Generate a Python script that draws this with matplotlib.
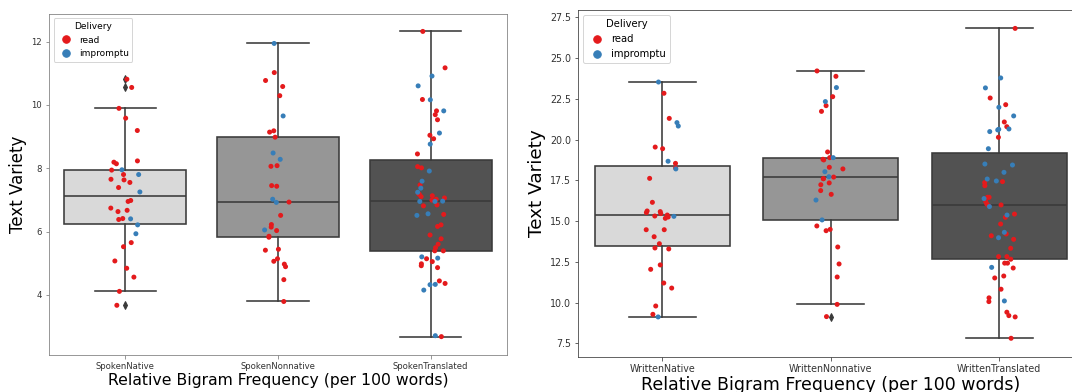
import numpy as np
import pandas as pd
import matplotlib
matplotlib.use("Agg")
import matplotlib.pyplot as plt
from matplotlib.lines import Line2D
import seaborn as sns

# Categories
spoken_cats = ["SpokenNative", "SpokenNonnative", "SpokenTranslated"]
written_cats = ["WrittenNative", "WrittenNonnative", "WrittenTranslated"]
delivery_levels = ["read", "impromptu"]

# Values (Text Variety)
spoken_native_read = [10.81, 10.55, 9.89, 9.58, 9.19, 8.23, 8.19, 8.14, 7.94, 7.80, 7.65, 7.63, 7.55, 7.39,
                      6.98, 6.95, 6.74, 6.67, 6.63, 6.41, 6.38, 5.65, 5.52, 5.07, 4.84, 4.56, 4.11, 3.67]
spoken_native_impromptu = [7.95, 7.80, 7.25, 6.40, 6.21, 5.93]

spoken_nonnative_read = [11.02, 10.77, 10.58, 10.29, 9.18, 9.14, 8.98, 8.08, 8.06, 7.45, 7.43, 6.93, 6.51,
                         6.22, 6.14, 6.03, 5.85, 5.82, 5.44, 5.41, 5.14, 5.06, 4.97, 4.89, 4.48, 3.79]
spoken_nonnative_impromptu = [11.94, 9.65, 8.48, 8.28, 7.02, 6.92, 6.05]

spoken_translated_read = [12.32, 11.17, 10.17, 9.81, 9.69, 9.53, 9.04, 8.93, 8.45, 8.05, 8.01, 7.47, 7.20,
                          7.17, 7.13, 7.10, 7.06, 7.02, 6.99, 6.84, 6.81, 6.54, 6.21, 6.16, 5.89, 5.77,
                          5.60, 5.49, 5.39, 5.39, 5.14, 5.05, 4.98, 4.92, 4.86, 4.44, 4.36, 2.68]
spoken_translated_impromptu = [10.91, 10.60, 10.16, 9.81, 9.11, 8.76, 7.91, 7.59, 7.37, 7.24, 6.96, 6.95,
                               6.95, 6.56, 6.51, 5.20, 5.16, 4.33, 4.32, 4.15, 2.71]

written_native_read = [22.84, 21.30, 19.54, 19.44, 18.54, 18.26, 17.62, 16.15, 15.62, 15.58, 15.52, 15.46,
                       15.37, 15.31, 15.25, 15.17, 14.47, 14.47, 14.04, 13.61, 13.35, 13.29, 12.31, 12.04,
                       11.20, 10.89, 9.79, 9.28]
written_native_impromptu = [23.53, 21.04, 20.83, 18.67, 18.20, 15.29, 9.12]

written_nonnative_read = [24.21, 23.88, 22.63, 22.08, 21.73, 19.24, 18.89, 18.79, 18.75, 18.30, 18.20, 17.70,
                          17.60, 17.60, 17.34, 17.23, 16.87, 16.64, 14.70, 14.49, 14.41, 13.41, 12.37, 11.57,
                          9.89, 9.14]
written_nonnative_impromptu = [23.19, 22.33, 18.89, 18.03, 17.72, 16.29, 15.07]

written_translated_read = [26.82, 22.55, 22.14, 21.08, 20.79, 20.14, 17.42, 17.36, 17.17, 16.46, 16.46,
                           16.19, 16.05, 15.99, 15.93, 15.43, 15.23, 14.82, 14.21, 14.10, 13.88, 13.33,
                           12.82, 12.82, 12.66, 12.42, 12.42, 12.12, 11.63, 11.51, 10.82, 10.29, 10.06,
                           9.41, 9.20, 9.12, 7.81]
written_translated_impromptu = [23.78, 23.17, 21.98, 21.45, 20.65, 20.63, 20.59, 20.49, 19.44, 18.50, 18.44,
                                17.99, 17.58, 17.46, 16.38, 15.89, 15.37, 14.31, 13.98, 12.16, 10.10]

box_colors = ["#d9d9d9", "#969696", "#525252"]
point_colors = ["#e41a1c", "#377eb8"]
line_color = "#3a3a3a"


def build_frame(cats, read_lists, impromptu_lists):
    # read rows first so impromptu points are drawn on top
    rows = []
    for cat, vals in zip(cats, read_lists):
        rows += [(cat, v, "read") for v in vals]
    for cat, vals in zip(cats, impromptu_lists):
        rows += [(cat, v, "impromptu") for v in vals]
    return pd.DataFrame(rows, columns=["Text", "Text Variety", "Delivery"])


def draw_panel(ax, df, cats, tick_fs, label_fs, leg_fs, spine_color, ylim):
    groups = [df.loc[df["Text"] == c, "Text Variety"].values for c in cats]
    bp = ax.boxplot(groups, positions=range(len(cats)), widths=0.8, patch_artist=True,
                    medianprops=dict(color=line_color, linewidth=1.6),
                    whiskerprops=dict(color=line_color, linewidth=1.6),
                    capprops=dict(color=line_color, linewidth=1.6),
                    boxprops=dict(edgecolor=line_color, linewidth=1.6),
                    flierprops=dict(marker="d", markerfacecolor=line_color,
                                    markeredgecolor=line_color, markersize=5))
    for patch, col in zip(bp["boxes"], box_colors):
        patch.set_facecolor(col)

    np.random.seed(3)
    sns.stripplot(data=df, x="Text", y="Text Variety", hue="Delivery", order=cats,
                  hue_order=delivery_levels, palette=point_colors, jitter=0.1, size=5,
                  ax=ax, zorder=3)

    handles = [Line2D([], [], marker="o", ls="", color=c, markersize=7.5, label=l)
               for c, l in zip(point_colors, delivery_levels)]
    ax.legend(handles=handles, title="Delivery", loc="upper left", fontsize=leg_fs,
              title_fontsize=leg_fs, handletextpad=0.4)

    ax.set_xlim(-0.5, 2.5)
    ax.set_ylim(*ylim)
    ax.set_xticks(range(len(cats)))
    ax.set_xticklabels(cats)
    ax.tick_params(labelsize=tick_fs, colors="#333333")
    ax.tick_params(axis="both", color=spine_color)
    for s in ax.spines.values():
        s.set_color(spine_color)
    ax.set_xlabel("Relative Bigram Frequency (per 100 words)", fontsize=label_fs, labelpad=2)
    ax.set_ylabel("Text Variety", fontsize=label_fs + 1)


spoken_df = build_frame(spoken_cats,
                        [spoken_native_read, spoken_nonnative_read, spoken_translated_read],
                        [spoken_native_impromptu, spoken_nonnative_impromptu, spoken_translated_impromptu])
written_df = build_frame(written_cats,
                         [written_native_read, written_nonnative_read, written_translated_read],
                         [written_native_impromptu, written_nonnative_impromptu, written_translated_impromptu])

fig = plt.figure(figsize=(1072 / 72, 392 / 72), dpi=72)
ax1 = fig.add_axes([49 / 1072, 1 - 355 / 392, 458 / 1072, 341 / 392])
ax2 = fig.add_axes([578 / 1072, 1 - 356.7 / 392, 505.5 / 1072, 346.4 / 392])

draw_panel(ax1, spoken_df, spoken_cats, 8.5, 15.6, 9, "#808080", (2.1, 12.87))
draw_panel(ax2, written_df, written_cats, 9.5, 17.4, 10, "#404040", (6.68, 27.93))
ax2.set_yticks([7.5, 10, 12.5, 15, 17.5, 20, 22.5, 25, 27.5])

fig.savefig("out.png", dpi=72)
